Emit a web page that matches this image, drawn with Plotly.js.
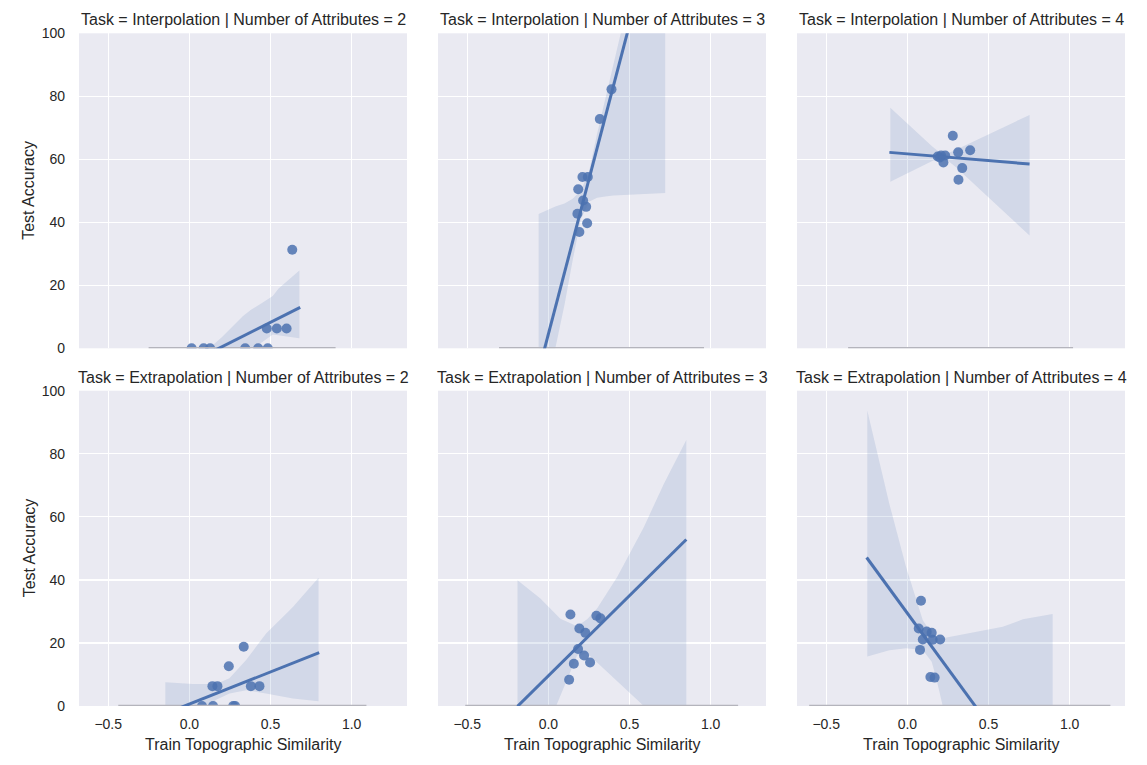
<!DOCTYPE html>
<html>
<head>
<meta charset="utf-8">
<script src="https://cdn.plot.ly/plotly-3.0.1.min.js"></script>
<style>html,body{margin:0;padding:0;background:#fff;}#chart{width:1147px;height:765px;}</style>
</head>
<body>
<div id="chart"></div>
<script>
// Facet labels
const tasks = ["Interpolation", "Extrapolation"];
const nAttributes = [2, 3, 4];
const xTickVals = [-0.5, 0.0, 0.5, 1.0];
const xTickText = ["\u22120.5", "0.0", "0.5", "1.0"];
const yTickVals = [0, 20, 40, 60, 80, 100];

// Points (Train Topographic Similarity, Test Accuracy), one pair per facet
const int2X = [0.014, 0.088, 0.128, 0.344, 0.424, 0.483, 0.477, 0.539, 0.599, 0.634];
const int2Y = [0, 0, 0, 0, 0, 0, 6.3, 6.3, 6.3, 31.3];
const int3X = [0.389, 0.317, 0.210, 0.243, 0.184, 0.214, 0.233, 0.179, 0.239, 0.191];
const int3Y = [82.2, 72.8, 54.4, 54.4, 50.5, 46.9, 44.9, 42.7, 39.7, 36.9];
const int4X = [0.280, 0.313, 0.387, 0.187, 0.208, 0.233, 0.222, 0.338, 0.315, 0.200];
const int4Y = [67.5, 62.2, 62.9, 60.9, 61.2, 61.2, 59.0, 57.2, 53.5, 60.6];
const ext2X = [0.335, 0.243, 0.142, 0.173, 0.379, 0.432, 0.078, 0.146, 0.270, 0.282];
const ext2Y = [18.8, 12.6, 6.3, 6.3, 6.3, 6.3, 0, 0, 0, 0];
const ext3X = [0.136, 0.296, 0.321, 0.191, 0.228, 0.183, 0.220, 0.157, 0.257, 0.128];
const ext3Y = [29.0, 28.6, 27.8, 24.6, 23.2, 18.1, 16.0, 13.4, 13.8, 8.3];
const ext4X = [0.084, 0.070, 0.119, 0.150, 0.095, 0.156, 0.202, 0.078, 0.142, 0.168];
const ext4Y = [33.4, 24.6, 23.6, 23.2, 21.1, 21.0, 21.1, 17.8, 9.2, 9.0];

// Regression line end values
const int2FitX = [-0.25, 0.683];  const int2FitY = [-11.2, 13.0];
const int3FitX = [-0.06, 0.72];   const int3FitY = [-7.3, 146.0];
const int4FitX = [-0.111, 0.753]; const int4FitY = [62.2, 58.5];
const ext2FitX = [-0.148, 0.80];  const ext2FitY = [-2.4, 16.9];
const ext3FitX = [-0.19, 0.85];   const ext3FitY = [-0.1, 52.8];
const ext4FitX = [-0.251, 0.895]; const ext4FitY = [47.1, -33.6];

// Confidence bands (x, lower, upper)
const int2BandX  = [0.123, 0.20, 0.329, 0.38, 0.45, 0.514, 0.55, 0.678];
const int2BandLo = [-10, -7, -3, 0, 2.0, 4.4, 4.0, 3.2];
const int2BandHi = [0, 3.5, 10.2, 12.2, 14.5, 16.6, 19.0, 24.7];
const int3BandX  = [-0.06, 0.0, 0.043, 0.1, 0.15, 0.2, 0.25, 0.3, 0.35, 0.4, 0.45, 0.5, 0.72];
const int3BandLo = [-25, -8, 0, 14, 28, 41, 46.5, 47.8, 48.2, 48.5, 48.7, 48.9, 49.3];
const int3BandHi = [42.6, 44, 45, 46, 47.5, 50, 56, 68, 79, 90, 101, 112, 160];
const int4BandX  = [-0.105, 0.15, 0.22, 0.3, 0.753];
const int4BandLo = [52.9, 59.4, 60.8, 57.5, 35.8];
const int4BandHi = [76.4, 64.2, 61.3, 63.0, 74.1];
const ext2BandX  = [-0.148, 0.021, 0.165, 0.247, 0.35, 0.473, 0.638, 0.796];
const ext2BandLo = [-12, -4, 2.0, 4.0, 5.0, 4.0, 2.4, 1.5];
const ext2BandHi = [7.5, 7.0, 7.0, 8.8, 14.6, 23.0, 31.4, 40.7];
const ext3BandX  = [-0.19, -0.049, 0.074, 0.177, 0.239, 0.30, 0.424, 0.588, 0.712, 0.85];
const ext3BandLo = [-60, -12, 3.7, 16, 16.7, 13.8, 7.8, 0, -6, -14];
const ext3BandHi = [39.9, 34.1, 27.7, 25.3, 27.5, 30.9, 40.9, 56.7, 70.5, 84.4];
const ext4BandX  = [-0.247, -0.111, -0.008, 0.095, 0.15, 0.177, 0.218, 0.383, 0.588, 0.712, 0.895];
const ext4BandLo = [15.7, 17.7, 18.3, 17.8, 14, 9, 0, -30, -60, -80, -110];
const ext4BandHi = [93.7, 64.1, 44.1, 27.2, 23.0, 21.4, 21.5, 23.0, 25.1, 27.5, 29.2];

// Baseline extents (grey line along 0)
const int2Base = [-0.251, 0.901];
const int3Base = [-0.304, 0.959];
const int4Base = [-0.365, 1.021];
const ext2Base = [-0.438, 1.091];
const ext3Base = [-0.512, 1.169];
const ext4Base = [-0.605, 1.251];

const panels = [
  {px:int2X, py:int2Y, fx:int2FitX, fy:int2FitY, bx:int2BandX, blo:int2BandLo, bhi:int2BandHi, base:int2Base},
  {px:int3X, py:int3Y, fx:int3FitX, fy:int3FitY, bx:int3BandX, blo:int3BandLo, bhi:int3BandHi, base:int3Base},
  {px:int4X, py:int4Y, fx:int4FitX, fy:int4FitY, bx:int4BandX, blo:int4BandLo, bhi:int4BandHi, base:int4Base},
  {px:ext2X, py:ext2Y, fx:ext2FitX, fy:ext2FitY, bx:ext2BandX, blo:ext2BandLo, bhi:ext2BandHi, base:ext2Base},
  {px:ext3X, py:ext3Y, fx:ext3FitX, fy:ext3FitY, bx:ext3BandX, blo:ext3BandLo, bhi:ext3BandHi, base:ext3Base},
  {px:ext4X, py:ext4Y, fx:ext4FitX, fy:ext4FitY, bx:ext4BandX, blo:ext4BandLo, bhi:ext4BandHi, base:ext4Base}
];

const W = 1147, H = 765;
const colPx = [[79, 407], [438, 766], [797, 1125]];
const rowPx = [[33.3, 348.3], [390.7, 706]];
const blue = "#4C72B0";
const FONT = "Liberation Sans, Arial, Helvetica, sans-serif";
const txt = "#262626";

const traces = [];
const layout = {
  width: W, height: H,
  margin: {l:0, r:0, t:0, b:0},
  paper_bgcolor: "#ffffff",
  plot_bgcolor: "#EAEAF2",
  showlegend: false,
  font: {family: FONT, color: txt, size: 14},
  annotations: []
};

panels.forEach((p, i) => {
  const r = Math.floor(i / 3), c = i % 3;
  const sfx = i === 0 ? "" : String(i + 1);
  const xa = "x" + sfx, ya = "y" + sfx;
  const dom = [colPx[c][0] / W, colPx[c][1] / W];
  const ydom = [1 - rowPx[r][1] / H, 1 - rowPx[r][0] / H];
  layout["xaxis" + sfx] = {
    domain: dom, anchor: ya, range: [-0.68, 1.341],
    tickvals: xTickVals, ticktext: xTickText, showticklabels: r === 1,
    showgrid: true, gridcolor: "#ffffff", gridwidth: 1.3, zeroline: false,
    showline: false, ticks: "", ticklabelstandoff: 8,
    tickfont: {family: FONT, size: 14, color: txt}, fixedrange: true
  };
  layout["yaxis" + sfx] = {
    domain: ydom, anchor: xa, range: [0, 100],
    tickvals: yTickVals, showticklabels: c === 0,
    showgrid: true, gridcolor: "#ffffff", gridwidth: 1.3, zeroline: false,
    showline: false, ticks: "", ticklabelstandoff: 13,
    tickfont: {family: FONT, size: 14, color: txt}, fixedrange: true
  };
  // points
  traces.push({x: p.px, y: p.py, xaxis: xa, yaxis: ya, type: "scatter", mode: "markers",
    marker: {size: 10, color: "rgba(76,114,176,0.85)", line: {width: 0}}, hoverinfo: "skip"});
  // band
  const polyX = p.bx.concat(p.bx.slice().reverse());
  const polyY = p.bhi.concat(p.blo.slice().reverse());
  traces.push({x: polyX, y: polyY, xaxis: xa, yaxis: ya, type: "scatter", mode: "lines",
    fill: "toself", fillcolor: "rgba(76,114,176,0.15)", line: {width: 0, color: "rgba(0,0,0,0)"},
    hoverinfo: "skip"});
  // baseline
  traces.push({x: p.base, y: [0, 0], xaxis: xa, yaxis: ya, type: "scatter", mode: "lines",
    line: {color: "#b4b4bc", width: 2.5}, hoverinfo: "skip"});
  // fit line
  traces.push({x: p.fx, y: p.fy, xaxis: xa, yaxis: ya, type: "scatter", mode: "lines",
    line: {color: blue, width: 3}, hoverinfo: "skip"});
  // facet title
  layout.annotations.push({
    text: "Task = " + tasks[r] + " | Number of Attributes = " + nAttributes[c],
    xref: "paper", yref: "paper", x: (dom[0] + dom[1]) / 2,
    y: 1 - (rowPx[r][0] - 13.5) / H, xanchor: "center", yanchor: "middle",
    showarrow: false, font: {family: FONT, size: 16, color: txt}
  });
  if (r === 1) {
    layout.annotations.push({
      text: "Train Topographic Similarity", xref: "paper", yref: "paper",
      x: (dom[0] + dom[1]) / 2, y: 1 - 744 / H, xanchor: "center", yanchor: "middle",
      showarrow: false, font: {family: FONT, size: 16, color: txt}
    });
  }
  if (c === 0) {
    layout.annotations.push({
      text: "Test Accuracy", xref: "paper", yref: "paper",
      x: 29 / W, y: (ydom[0] + ydom[1]) / 2, xanchor: "center", yanchor: "middle",
      textangle: -90, showarrow: false, font: {family: FONT, size: 16, color: txt}
    });
  }
});

Plotly.newPlot("chart", traces, layout, {displayModeBar: false, staticPlot: true});
</script>
</body>
</html>
